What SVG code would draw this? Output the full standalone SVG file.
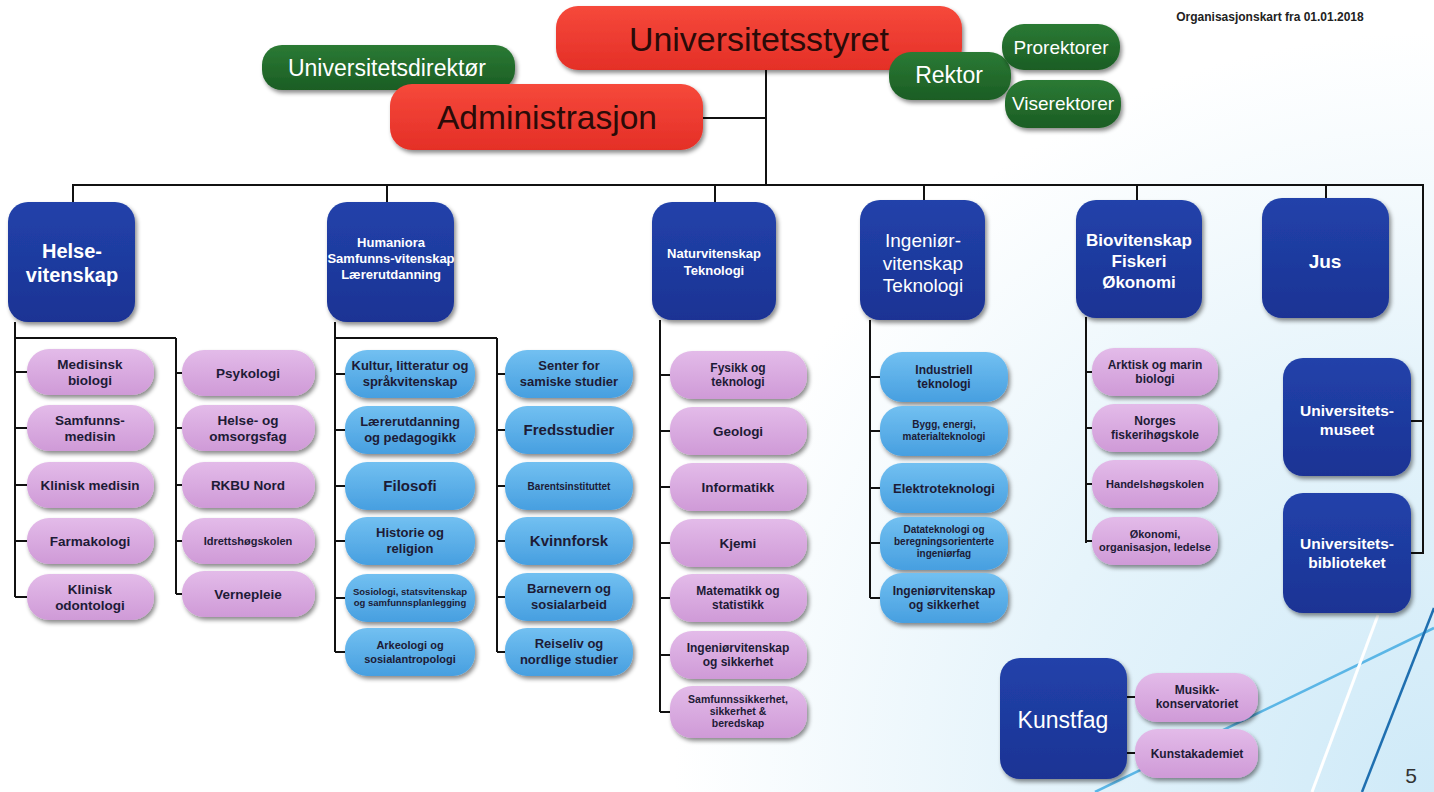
<svg xmlns="http://www.w3.org/2000/svg" width="1434" height="792" viewBox="0 0 1434 792">
<defs>
<radialGradient id="bg" cx="1434" cy="792" r="760" gradientUnits="userSpaceOnUse">
<stop offset="0" stop-color="#cfeaf8"/>
<stop offset="0.55" stop-color="#e6f4fb"/>
<stop offset="1" stop-color="#ffffff"/>
</radialGradient>
<linearGradient id="gNavy" x1="0" y1="0" x2="0" y2="1">
<stop offset="0" stop-color="#2242aa"/>
<stop offset="1" stop-color="#1a3394"/>
</linearGradient>
<linearGradient id="gPink" x1="0" y1="0" x2="0" y2="1">
<stop offset="0" stop-color="#e3bbe9"/>
<stop offset="1" stop-color="#cf9ad7"/>
</linearGradient>
<linearGradient id="gBlue" x1="0" y1="0" x2="0" y2="1">
<stop offset="0" stop-color="#72c0f1"/>
<stop offset="1" stop-color="#479fe0"/>
</linearGradient>
<linearGradient id="gRed" x1="0" y1="0" x2="0" y2="1">
<stop offset="0" stop-color="#f6493b"/>
<stop offset="1" stop-color="#e42f27"/>
</linearGradient>
<linearGradient id="gGreen" x1="0" y1="0" x2="0" y2="1">
<stop offset="0" stop-color="#2b7a34"/>
<stop offset="1" stop-color="#1b5d24"/>
</linearGradient>
<filter id="sh" x="-20%" y="-20%" width="140%" height="150%">
<feDropShadow dx="2" dy="3" stdDeviation="2" flood-color="#000" flood-opacity="0.45"/>
</filter>
</defs>
<style>
.nv{fill:url(#gNavy);filter:url(#sh)}
.pk{fill:url(#gPink);filter:url(#sh)}
.lb{fill:url(#gBlue);filter:url(#sh)}
.rd{fill:url(#gRed);filter:url(#sh)}
.gr{fill:url(#gGreen);filter:url(#sh)}
text{font-family:"Liberation Sans",Arial,sans-serif;text-anchor:middle}
.t{font-size:13.5px;font-weight:bold;fill:#1d1b36}
.t13{font-size:13px;font-weight:bold;fill:#1d1b36}
.t12{font-size:12px;font-weight:bold;fill:#1d1b36}
.t11{font-size:11px;font-weight:bold;fill:#1d1b36}
.t10{font-size:10px;font-weight:bold;fill:#1d1b36}
.tm{font-size:15px;font-weight:bold;fill:#1d1b36}
.w{font-weight:bold;fill:#ffffff}
.wg{fill:#ffffff}
.big{fill:#2a0b08}
#conn line,#conn polyline{stroke:#111;stroke-width:2;fill:none}
</style>
<rect x="0" y="0" width="1434" height="792" fill="url(#bg)"/>
<g id="deco" fill="none">
<line x1="1095" y1="792" x2="1434" y2="628" stroke="#5bb6e6" stroke-width="2.5"/>
<line x1="1312" y1="792" x2="1378" y2="615" stroke="#ffffff" stroke-width="3"/>
<line x1="1362" y1="792" x2="1434" y2="608" stroke="#1f6fb0" stroke-width="2.5"/>
</g>
<text x="1270" y="21" style="font-size:12px;font-weight:bold;fill:#222">Organisasjonskart fra 01.01.2018</text>

<g id="conn">
<line x1="766" y1="70" x2="766" y2="185"/>
<line x1="703" y1="118" x2="766" y2="118"/>
<polyline points="73,202 73,185 1423,185 1423,553 1410,553"/>
<line x1="1410" y1="421" x2="1423" y2="421"/>
<line x1="387" y1="185" x2="387" y2="202"/>
<line x1="715" y1="185" x2="715" y2="202"/>
<line x1="924" y1="185" x2="924" y2="200"/>
<line x1="1137" y1="185" x2="1137" y2="200"/>
<line x1="1326" y1="185" x2="1326" y2="198"/>
<line x1="15" y1="322" x2="15" y2="597"/>
<line x1="15" y1="338" x2="176" y2="338"/>
<line x1="176" y1="338" x2="176" y2="594"/>
<line x1="15" y1="372" x2="27" y2="372"/>
<line x1="15" y1="428" x2="27" y2="428"/>
<line x1="15" y1="485" x2="27" y2="485"/>
<line x1="15" y1="541" x2="27" y2="541"/>
<line x1="15" y1="597" x2="27" y2="597"/>
<line x1="176" y1="373" x2="182" y2="373"/>
<line x1="176" y1="428" x2="182" y2="428"/>
<line x1="176" y1="485" x2="182" y2="485"/>
<line x1="176" y1="541" x2="182" y2="541"/>
<line x1="176" y1="594" x2="182" y2="594"/>
<line x1="335" y1="322" x2="335" y2="652"/>
<line x1="335" y1="338" x2="497" y2="338"/>
<line x1="497" y1="338" x2="497" y2="652"/>
<line x1="335" y1="374" x2="345" y2="374"/>
<line x1="335" y1="430" x2="345" y2="430"/>
<line x1="335" y1="486" x2="345" y2="486"/>
<line x1="335" y1="541" x2="345" y2="541"/>
<line x1="335" y1="598" x2="345" y2="598"/>
<line x1="335" y1="652" x2="345" y2="652"/>
<line x1="497" y1="374" x2="505" y2="374"/>
<line x1="497" y1="430" x2="505" y2="430"/>
<line x1="497" y1="486" x2="505" y2="486"/>
<line x1="497" y1="541" x2="505" y2="541"/>
<line x1="497" y1="597" x2="505" y2="597"/>
<line x1="497" y1="652" x2="505" y2="652"/>
<line x1="660" y1="320" x2="660" y2="712"/>
<line x1="660" y1="375" x2="670" y2="375"/>
<line x1="660" y1="431" x2="670" y2="431"/>
<line x1="660" y1="487" x2="670" y2="487"/>
<line x1="660" y1="543" x2="670" y2="543"/>
<line x1="660" y1="598" x2="670" y2="598"/>
<line x1="660" y1="655" x2="670" y2="655"/>
<line x1="660" y1="712" x2="670" y2="712"/>
<line x1="870" y1="320" x2="870" y2="598"/>
<line x1="870" y1="377" x2="880" y2="377"/>
<line x1="870" y1="431" x2="880" y2="431"/>
<line x1="870" y1="488" x2="880" y2="488"/>
<line x1="870" y1="543" x2="880" y2="543"/>
<line x1="870" y1="598" x2="880" y2="598"/>
<line x1="1086" y1="317" x2="1086" y2="543"/>
<line x1="1086" y1="372" x2="1092" y2="372"/>
<line x1="1086" y1="428" x2="1092" y2="428"/>
<line x1="1086" y1="484" x2="1092" y2="484"/>
<line x1="1086" y1="541" x2="1092" y2="541"/>
<line x1="1127" y1="697" x2="1135" y2="697"/>
<line x1="1127" y1="753" x2="1135" y2="753"/>
</g>

<g id="n-styret"><rect class="rd" x="556" y="6" width="406" height="64" rx="22"/><text class="big" x="759" y="51" style="font-size:34px" textLength="260" lengthAdjust="spacingAndGlyphs">Universitetsstyret</text></g>
<g id="n-direktor"><rect class="gr" x="262" y="45" width="253" height="45" rx="20"/><text class="wg" x="387" y="76" style="font-size:23px">Universitetsdirektør</text></g>
<g id="n-admin"><rect class="rd" x="390" y="84" width="313" height="66" rx="22"/><text class="big" x="547" y="129" style="font-size:33px" textLength="220" lengthAdjust="spacingAndGlyphs">Administrasjon</text></g>
<g id="n-rektor"><rect class="gr" x="889" y="52" width="122" height="48" rx="22"/><text class="wg" x="949" y="83" style="font-size:23px">Rektor</text></g>
<g id="n-prorektorer"><rect class="gr" x="1002" y="24" width="118" height="46" rx="22"/><text class="wg" x="1061" y="54" style="font-size:19px">Prorektorer</text></g>
<g id="n-viserektorer"><rect class="gr" x="1005" y="80" width="116" height="48" rx="22"/><text class="wg" x="1063" y="110" style="font-size:19px">Viserektorer</text></g>

<g id="n-helse"><rect class="nv" x="8" y="202" width="127" height="120" rx="20"/><text class="w" x="72" y="258" style="font-size:20px">Helse-</text><text class="w" x="72" y="282" style="font-size:20px">vitenskap</text></g>
<g id="n-hum"><rect class="nv" x="327" y="202" width="127" height="120" rx="20"/><text class="w" x="391" y="247" style="font-size:13px">Humaniora</text><text class="w" x="391" y="263" style="font-size:13px">Samfunns-vitenskap</text><text class="w" x="391" y="279" style="font-size:13px">Lærerutdanning</text></g>
<g id="n-nat"><rect class="nv" x="652" y="202" width="124" height="118" rx="20"/><text class="w" x="714" y="258" style="font-size:13px">Naturvitenskap</text><text class="w" x="714" y="275" style="font-size:13px">Teknologi</text></g>
<g id="n-ing"><rect class="nv" x="860" y="200" width="125" height="120" rx="20"/><text class="wg" x="923" y="247" style="font-size:19px">Ingeniør-</text><text class="wg" x="923" y="270" style="font-size:19px">vitenskap</text><text class="wg" x="923" y="292" style="font-size:19px">Teknologi</text></g>
<g id="n-bio"><rect class="nv" x="1076" y="200" width="126" height="118" rx="20"/><text class="w" x="1139" y="246" style="font-size:17px">Biovitenskap</text><text class="w" x="1139" y="267" style="font-size:17px">Fiskeri</text><text class="w" x="1139" y="288" style="font-size:17px">Økonomi</text></g>
<g id="n-jus"><rect class="nv" x="1262" y="198" width="127" height="120" rx="20"/><text class="w" x="1325" y="268" style="font-size:19px">Jus</text></g>
<g id="n-museet"><rect class="nv" x="1283" y="358" width="128" height="118" rx="20"/><text class="w" x="1347" y="416" style="font-size:15.5px">Universitets-</text><text class="w" x="1347" y="435" style="font-size:15.5px">museet</text></g>
<g id="n-bibl"><rect class="nv" x="1283" y="493" width="128" height="120" rx="20"/><text class="w" x="1347" y="549" style="font-size:15.5px">Universitets-</text><text class="w" x="1347" y="568" style="font-size:15.5px">biblioteket</text></g>
<g id="n-kunst"><rect class="nv" x="1000" y="658" width="127" height="121" rx="20"/><text class="wg" x="1063" y="728" style="font-size:23px">Kunstfag</text></g>

<g id="h1"><rect class="pk" x="27" y="349" width="127" height="46" rx="22"/><text class="t" x="90" y="369">Medisinsk</text><text class="t" x="90" y="385">biologi</text></g>
<g id="h2"><rect class="pk" x="27" y="405" width="127" height="46" rx="22"/><text class="t" x="90" y="425">Samfunns-</text><text class="t" x="90" y="441">medisin</text></g>
<g id="h3"><rect class="pk" x="27" y="462" width="127" height="46" rx="22"/><text class="t" x="90" y="490">Klinisk medisin</text></g>
<g id="h4"><rect class="pk" x="27" y="518" width="127" height="46" rx="22"/><text class="t" x="90" y="546">Farmakologi</text></g>
<g id="h5"><rect class="pk" x="27" y="574" width="127" height="46" rx="22"/><text class="t" x="90" y="594">Klinisk</text><text class="t" x="90" y="610">odontologi</text></g>
<g id="h6"><rect class="pk" x="182" y="350" width="133" height="46" rx="22"/><text class="t" x="248" y="378">Psykologi</text></g>
<g id="h7"><rect class="pk" x="182" y="405" width="133" height="46" rx="22"/><text class="t" x="248" y="425">Helse- og</text><text class="t" x="248" y="441">omsorgsfag</text></g>
<g id="h8"><rect class="pk" x="182" y="462" width="133" height="46" rx="22"/><text class="t" x="248" y="490">RKBU Nord</text></g>
<g id="h9"><rect class="pk" x="182" y="518" width="133" height="46" rx="22"/><text class="t11" x="248" y="545">Idrettshøgskolen</text></g>
<g id="h10"><rect class="pk" x="182" y="571" width="133" height="46" rx="22"/><text class="t" x="248" y="599">Vernepleie</text></g>

<g id="u1"><rect class="lb" x="345" y="350" width="130" height="48" rx="22"/><text class="t13" x="410" y="370">Kultur, litteratur og</text><text class="t13" x="410" y="386">språkvitenskap</text></g>
<g id="u2"><rect class="lb" x="345" y="406" width="130" height="48" rx="22"/><text class="t13" x="410" y="426">Lærerutdanning</text><text class="t13" x="410" y="442">og pedagogikk</text></g>
<g id="u3"><rect class="lb" x="345" y="462" width="130" height="48" rx="22"/><text class="tm" x="410" y="491">Filosofi</text></g>
<g id="u4"><rect class="lb" x="345" y="517" width="130" height="48" rx="22"/><text class="t13" x="410" y="537">Historie og</text><text class="t13" x="410" y="553">religion</text></g>
<g id="u5"><rect class="lb" x="345" y="574" width="130" height="48" rx="22"/><text x="410" y="595" style="font-size:9.5px;font-weight:bold;fill:#1d1b36">Sosiologi, statsvitenskap</text><text x="410" y="606" style="font-size:9.5px;font-weight:bold;fill:#1d1b36">og samfunnsplanlegging</text></g>
<g id="u6"><rect class="lb" x="345" y="628" width="130" height="48" rx="22"/><text class="t11" x="410" y="649">Arkeologi og</text><text class="t11" x="410" y="663">sosialantropologi</text></g>
<g id="u7"><rect class="lb" x="505" y="350" width="128" height="48" rx="22"/><text class="t13" x="569" y="370">Senter for</text><text class="t13" x="569" y="386">samiske studier</text></g>
<g id="u8"><rect class="lb" x="505" y="406" width="128" height="48" rx="22"/><text class="tm" x="569" y="435">Fredsstudier</text></g>
<g id="u9"><rect class="lb" x="505" y="462" width="128" height="48" rx="22"/><text class="t10" x="569" y="490">Barentsinstituttet</text></g>
<g id="u10"><rect class="lb" x="505" y="517" width="128" height="48" rx="22"/><text class="tm" x="569" y="546">Kvinnforsk</text></g>
<g id="u11"><rect class="lb" x="505" y="573" width="128" height="48" rx="22"/><text class="t13" x="569" y="593">Barnevern og</text><text class="t13" x="569" y="609">sosialarbeid</text></g>
<g id="u12"><rect class="lb" x="505" y="628" width="128" height="48" rx="22"/><text class="t13" x="569" y="648">Reiseliv og</text><text class="t13" x="569" y="664">nordlige studier</text></g>

<g id="nt1"><rect class="pk" x="670" y="351" width="137" height="48" rx="22"/><text class="t12" x="738" y="372">Fysikk og</text><text class="t12" x="738" y="386">teknologi</text></g>
<g id="nt2"><rect class="pk" x="670" y="407" width="137" height="48" rx="22"/><text class="t" x="738" y="436">Geologi</text></g>
<g id="nt3"><rect class="pk" x="670" y="463" width="137" height="48" rx="22"/><text class="t" x="738" y="492">Informatikk</text></g>
<g id="nt4"><rect class="pk" x="670" y="519" width="137" height="48" rx="22"/><text class="t" x="738" y="548">Kjemi</text></g>
<g id="nt5"><rect class="pk" x="670" y="574" width="137" height="48" rx="22"/><text class="t12" x="738" y="595">Matematikk og</text><text class="t12" x="738" y="609">statistikk</text></g>
<g id="nt6"><rect class="pk" x="670" y="631" width="137" height="48" rx="22"/><text class="t12" x="738" y="652">Ingeniørvitenskap</text><text class="t12" x="738" y="666">og sikkerhet</text></g>
<g id="nt7"><rect class="pk" x="670" y="686" width="137" height="52" rx="22"/><text x="738" y="703" style="font-size:10.5px;font-weight:bold;fill:#1d1b36">Samfunnssikkerhet,</text><text x="738" y="715" style="font-size:10.5px;font-weight:bold;fill:#1d1b36">sikkerhet &amp;</text><text x="738" y="727" style="font-size:10.5px;font-weight:bold;fill:#1d1b36">beredskap</text></g>

<g id="ig1"><rect class="lb" x="880" y="352" width="128" height="50" rx="22"/><text class="t12" x="944" y="374">Industriell</text><text class="t12" x="944" y="388">teknologi</text></g>
<g id="ig2"><rect class="lb" x="880" y="406" width="128" height="50" rx="22"/><text class="t10" x="944" y="428">Bygg, energi,</text><text class="t10" x="944" y="440">materialteknologi</text></g>
<g id="ig3"><rect class="lb" x="880" y="463" width="128" height="50" rx="22"/><text class="t13" x="944" y="493">Elektroteknologi</text></g>
<g id="ig4"><rect class="lb" x="880" y="517" width="128" height="53" rx="22"/><text class="t10" x="944" y="533">Datateknologi og</text><text class="t10" x="944" y="545">beregningsorienterte</text><text class="t10" x="944" y="557">ingeniørfag</text></g>
<g id="ig5"><rect class="lb" x="880" y="573" width="128" height="50" rx="22"/><text class="t12" x="944" y="595">Ingeniørvitenskap</text><text class="t12" x="944" y="609">og sikkerhet</text></g>

<g id="b1"><rect class="pk" x="1092" y="348" width="126" height="48" rx="22"/><text class="t12" x="1155" y="369">Arktisk og marin</text><text class="t12" x="1155" y="383">biologi</text></g>
<g id="b2"><rect class="pk" x="1092" y="404" width="126" height="48" rx="22"/><text class="t12" x="1155" y="425">Norges</text><text class="t12" x="1155" y="439">fiskerihøgskole</text></g>
<g id="b3"><rect class="pk" x="1092" y="460" width="126" height="48" rx="22"/><text class="t11" x="1155" y="488">Handelshøgskolen</text></g>
<g id="b4"><rect class="pk" x="1092" y="517" width="126" height="48" rx="22"/><text class="t11" x="1155" y="538">Økonomi,</text><text class="t11" x="1155" y="551">organisasjon, ledelse</text></g>

<g id="k1"><rect class="pk" x="1135" y="673" width="123" height="49" rx="22"/><text class="t12" x="1197" y="694">Musikk-</text><text class="t12" x="1197" y="708">konservatoriet</text></g>
<g id="k2"><rect class="pk" x="1135" y="729" width="123" height="49" rx="22"/><text class="t12" x="1197" y="758">Kunstakademiet</text></g>

<text x="1411" y="783" style="font-size:21px;fill:#333">5</text>
</svg>
